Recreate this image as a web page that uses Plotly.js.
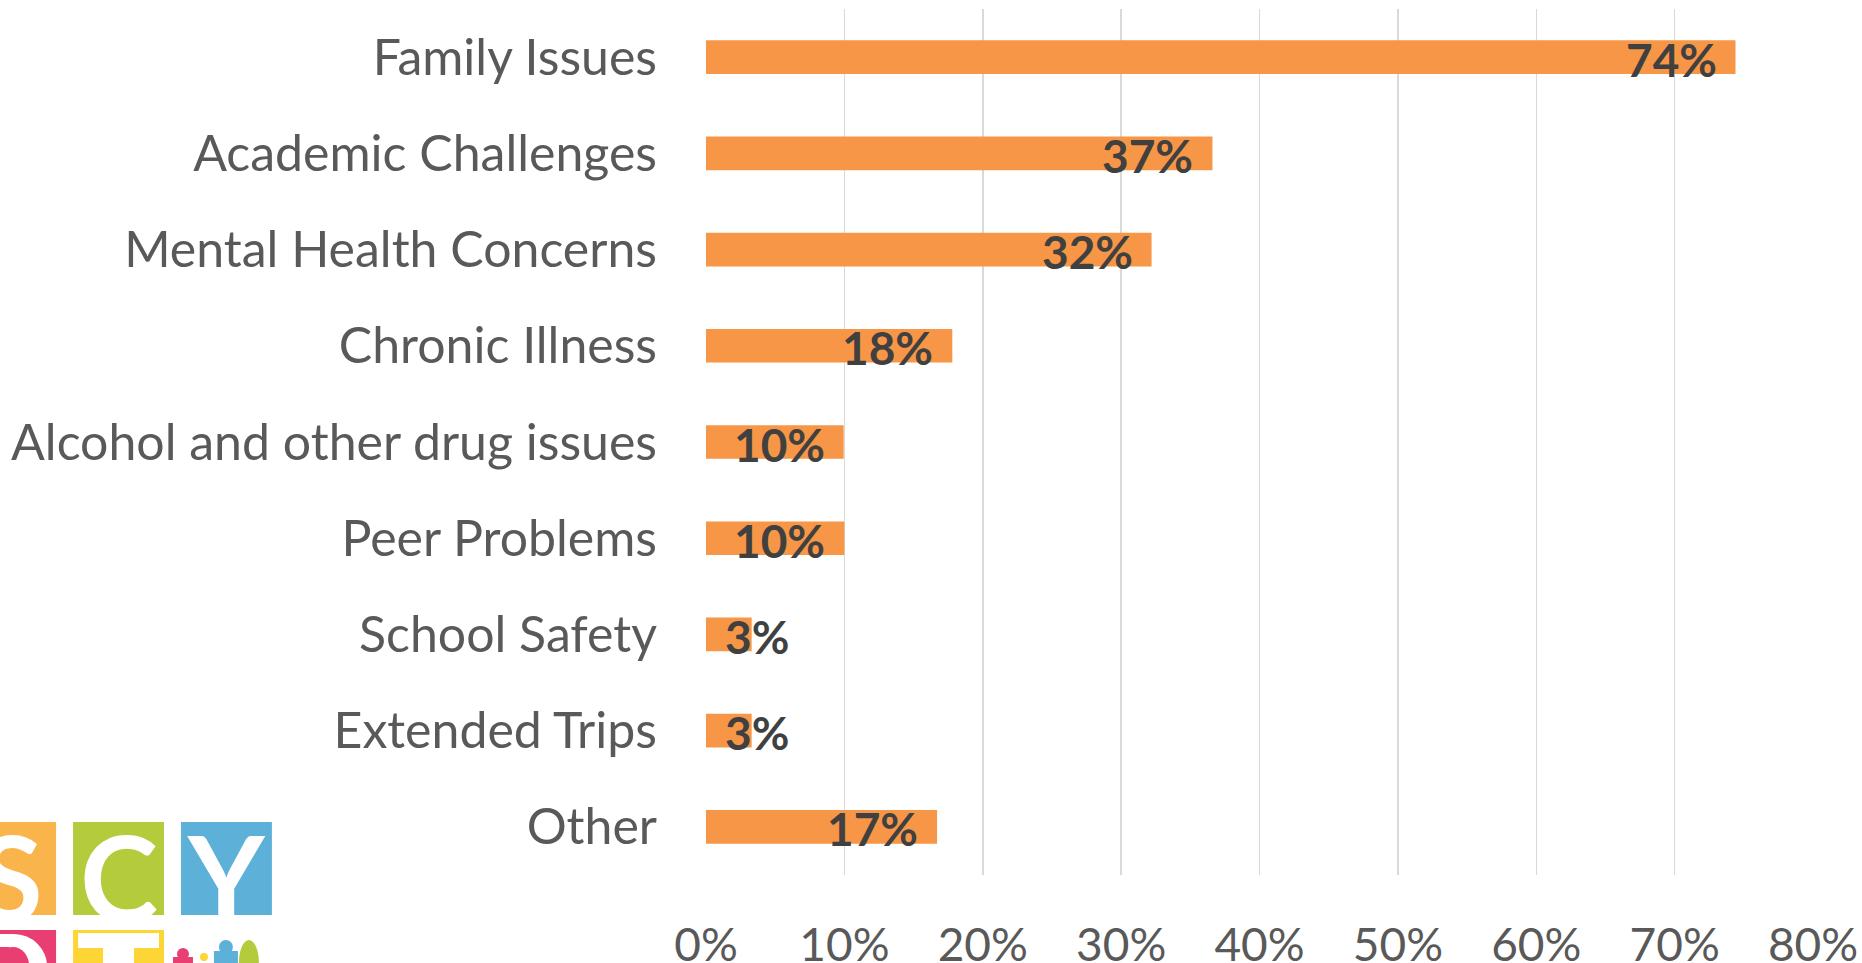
<!DOCTYPE html>
<html>
<head>
<meta charset="utf-8">
<script src="https://cdn.plot.ly/plotly-3.0.1.min.js"></script>
<style>
  html, body { margin: 0; padding: 0; background: #ffffff; }
  #chart { width: 1862px; height: 963px; }
</style>
</head>
<body>
<div id="chart"></div>
<script>
// ---- data ----
const categories = [
  "Family Issues",
  "Academic Challenges",
  "Mental Health Concerns",
  "Chronic Illness",
  "Alcohol and other drug issues",
  "Peer Problems",
  "School Safety",
  "Extended Trips",
  "Other"
];
const values = [74.4, 36.6, 32.2, 17.8, 9.95, 10.0, 3.3, 3.3, 16.7];
const valueLabels = ["74%", "37%", "32%", "18%", "10%", "10%", "3%", "3%", "17%"];
const tickValues = [0, 10, 20, 30, 40, 50, 60, 70, 80];
const tickLabels = ["0%", "10%", "20%", "30%", "40%", "50%", "60%", "70%", "80%"];

// ---- layout geometry (pixels) ----
const W = 1862, H = 963;
const L = 705.5, R = 1813.5, T = 9, B = 875;
const px = x => (x - L) / (R - L);
const py = y => (B - y) / (B - T);
const pxPerUnit = (R - L) / 80;

const labelFont = { family: "Lato, 'Open Sans', sans-serif", size: 46, color: "#404040", weight: "bold" };

// measure label widths to decide placement (inside end, or from base when it doesn't fit)
const cv = document.createElement("canvas").getContext("2d");
cv.font = "bold 46px Lato";
const PAD = 17;

const annotations = [];
values.forEach((v, i) => {
  const tw = cv.measureText(valueLabels[i]).width;
  const barW = v * pxPerUnit;
  const fits = barW >= tw + 2 * PAD;
  annotations.push({
    x: fits ? v : 0, y: categories[i], xref: "x", yref: "y",
    text: "<b>" + valueLabels[i] + "</b>", showarrow: false,
    xanchor: fits ? "right" : "left", yanchor: "middle",
    xshift: fits ? -PAD : PAD, yshift: -2,
    font: labelFont
  });
});

// ---- logo (decorative, bottom-left) ----
const shapes = [];
function rect(x0, y0, x1, y1, color) {
  shapes.push({ type: "rect", xref: "paper", yref: "paper",
    x0: px(x0), x1: px(x1), y0: py(y1), y1: py(y0),
    fillcolor: color, line: { width: 0 }, layer: "above" });
}
function circ(x0, y0, x1, y1, color) {
  shapes.push({ type: "circle", xref: "paper", yref: "paper",
    x0: px(x0), x1: px(x1), y0: py(y1), y1: py(y0),
    fillcolor: color, line: { width: 0 }, layer: "above" });
}
rect(-36, 822, 55, 915, "#F9B54C");
rect(72, 822, 163, 915, "#B4CC3C");
rect(180, 822, 271, 915, "#5DB0D8");
rect(-36, 930, 55, 1021, "#E83E72");
rect(72, 930, 163, 1021, "#FDD535");
// "D" (cropped) in pink square
circ(-20, 934, 46, 1000, "#ffffff");
rect(-36, 934, 12, 1000, "#ffffff");
circ(-4, 947, 28, 985, "#E83E72");
rect(-36, 947, 8, 985, "#E83E72");
rect(-36, 934, -6, 1000, "#ffffff");
// "T" (cropped) in yellow square
rect(77, 933, 158, 948, "#ffffff");
rect(102, 948, 133, 1000, "#ffffff");
// people silhouettes
circ(176, 948, 188, 960, "#E83E72");
rect(172, 957, 192, 975, "#E83E72");
circ(199, 953, 207, 961, "#FDD535");
circ(218, 940, 232, 954, "#5DB0D8");
rect(213, 951, 237, 975, "#5DB0D8");
circ(238, 940, 258, 985, "#B4CC3C");

const letterFont = { family: "Lato, 'Open Sans', sans-serif", size: 118, color: "#ffffff", weight: 900 };
function letter(t, cx, cy) {
  annotations.push({ x: px(cx), y: py(cy), xref: "paper", yref: "paper", text: "<b>" + t + "</b>",
    showarrow: false, xanchor: "center", yanchor: "middle", font: letterFont, yshift: -8 });
}
letter("S", 9.5, 868.5);
letter("C", 117.5, 868.5);
letter("Y", 225.5, 868.5);

const trace = {
  type: "bar",
  orientation: "h",
  x: values,
  y: categories,
  marker: { color: "#F79646", line: { width: 0 } },
  width: 0.35,
  hoverinfo: "none"
};

const layout = {
  width: W, height: H,
  margin: { l: L, r: W - R, t: T, b: H - B, pad: 0 },
  paper_bgcolor: "#ffffff",
  plot_bgcolor: "#ffffff",
  showlegend: false,
  xaxis: {
    range: [0, 80],
    tickvals: tickValues,
    ticktext: tickLabels,
    showgrid: true, gridcolor: "#D9D9D9", gridwidth: 1.5,
    zeroline: false, showline: false, ticks: "",
    ticklabelstandoff: 39,
    tickfont: { family: "Lato, 'Open Sans', sans-serif", size: 46, color: "#595959" },
    fixedrange: true
  },
  yaxis: {
    type: "category",
    autorange: "reversed",
    showgrid: false, zeroline: false, showline: false, ticks: "",
    ticklabelstandoff: 48,
    tickfont: { family: "Lato, 'Open Sans', sans-serif", size: 50, color: "#595959" },
    fixedrange: true
  },
  shapes: shapes,
  annotations: annotations
};

Plotly.newPlot("chart", [trace], layout, { displayModeBar: false, staticPlot: true });
</script>
</body>
</html>
